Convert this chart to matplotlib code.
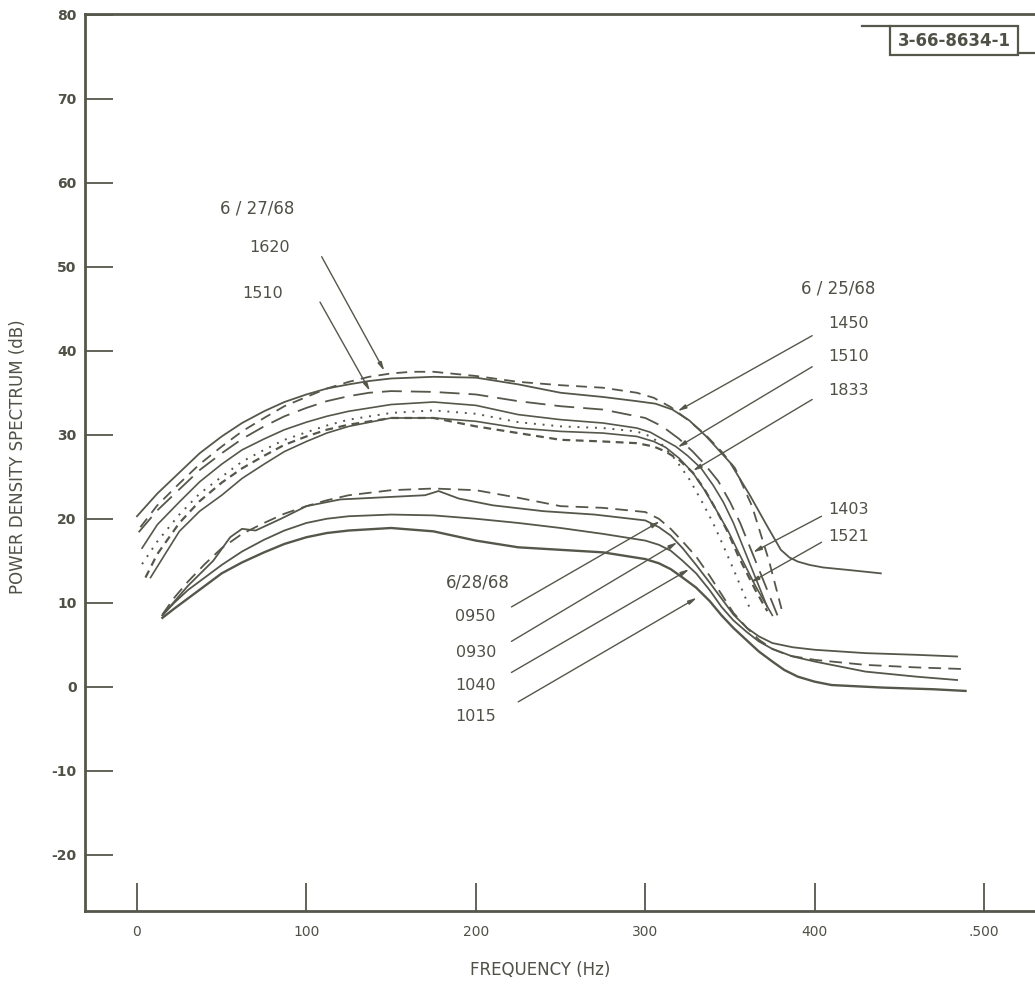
import numpy as np
import matplotlib
matplotlib.use("Agg")
import matplotlib.pyplot as plt
from matplotlib.lines import Line2D
from matplotlib.patches import Rectangle

plt.rcParams["axes.unicode_minus"] = False

INK = "#4f5046"
LINE = "#55574b"

# ---- curve data (frequency Hz, power density dB) ----
# 6/27/68
f_1620 = [2, 12, 25, 37, 50, 62, 75, 87, 100, 112, 125, 137, 150, 162, 175, 200, 225, 250, 275, 295,
          305, 315, 325, 335, 345, 353, 363, 373, 381]
p_1620 = [19.0, 21.6, 24.2, 26.5, 28.6, 30.4, 32.0, 33.4, 34.5, 35.5, 36.3, 36.9, 37.3, 37.5, 37.5, 37.0,
          36.3, 35.9, 35.6, 35.0, 34.4, 33.3, 31.8, 30.1, 28.0, 26.0, 21.5, 15.0, 8.8]
f_1510a = [1, 12, 25, 37, 50, 62, 75, 87, 100, 112, 125, 137, 150, 175, 200, 225, 250, 275, 300, 310,
           320, 328, 335, 343, 350, 356, 362, 372, 378]
p_1510a = [18.4, 21.0, 23.5, 25.8, 27.8, 29.5, 31.0, 32.2, 33.2, 34.0, 34.6, 35.0, 35.2, 35.1, 34.8, 34.0,
           33.4, 33.0, 32.0, 31.0, 29.5, 28.0, 26.5, 24.5, 22.0, 19.5, 16.5, 11.5, 8.5]
# 6/25/68
f_1450 = [0, 12, 25, 37, 50, 62, 75, 87, 100, 112, 125, 137, 150, 175, 200, 225, 250, 275, 295, 306,
          316, 326, 336, 350, 362, 372, 380, 385, 390, 397, 405, 420, 439]
p_1450 = [20.3, 23.0, 25.5, 27.8, 29.8, 31.4, 32.8, 33.9, 34.8, 35.5, 36.0, 36.4, 36.7, 36.9, 36.8, 36.0,
          35.0, 34.5, 34.0, 33.7, 33.0, 31.7, 29.8, 26.7, 22.7, 19.1, 16.3, 15.4, 14.9, 14.5, 14.2, 13.9, 13.5]
f_1510b = [3, 12, 25, 37, 50, 62, 75, 87, 100, 112, 125, 150, 175, 200, 225, 250, 275, 295, 303, 310,
           318, 325, 333, 340, 346, 352, 362, 372]
p_1510b = [16.5, 19.3, 22.0, 24.4, 26.5, 28.2, 29.5, 30.6, 31.5, 32.2, 32.8, 33.6, 33.9, 33.5, 32.4, 31.8,
           31.4, 30.8, 30.3, 29.5, 28.6, 27.5, 26.0, 24.0, 22.0, 19.5, 14.5, 9.5]
f_1521 = [3, 12, 25, 37, 50, 62, 75, 87, 100, 112, 125, 150, 175, 200, 225, 250, 275, 295, 303, 310,
          318, 326, 333, 340, 346, 352, 362]
p_1521 = [14.6, 17.3, 20.5, 23.0, 25.0, 26.8, 28.2, 29.4, 30.3, 31.1, 31.8, 32.6, 32.9, 32.5, 31.5, 31.0,
          30.8, 30.4, 29.8, 28.8, 27.0, 24.7, 22.2, 19.5, 16.8, 14.0, 9.2]
f_1833 = [5, 12, 25, 37, 50, 62, 75, 87, 100, 112, 125, 150, 175, 200, 225, 250, 275, 295, 305, 312,
          320, 328, 335, 342, 349, 355, 365, 372]
p_1833 = [13.0, 15.8, 19.5, 22.1, 24.3, 26.0, 27.5, 28.8, 29.8, 30.6, 31.2, 32.0, 32.0, 31.0, 30.2, 29.4,
          29.2, 29.0, 28.6, 28.0, 27.0, 25.5, 23.5, 21.0, 18.3, 15.5, 11.5, 9.0]
f_1403 = [8, 16, 25, 37, 50, 62, 75, 87, 100, 112, 125, 150, 175, 200, 225, 250, 275, 295, 305, 312,
          320, 328, 335, 342, 349, 355, 365, 375]
p_1403 = [13.0, 15.6, 18.5, 20.9, 22.8, 24.8, 26.5, 28.0, 29.2, 30.2, 31.0, 32.0, 32.0, 31.6, 30.8, 30.4,
          30.2, 29.8, 29.2, 28.5, 27.2, 25.5, 23.4, 21.0, 18.5, 16.0, 12.0, 8.5]
# 6/28/68
f_0950 = [15, 22, 30, 40, 50, 62, 75, 87, 100, 112, 125, 150, 175, 200, 225, 250, 275, 300, 308, 315,
          322, 330, 338, 345, 352, 360, 367, 375, 385, 400, 430, 460, 489]
p_0950 = [8.6, 10.6, 12.5, 14.6, 16.5, 18.2, 19.5, 20.6, 21.5, 22.2, 22.8, 23.4, 23.6, 23.4, 22.5, 21.5,
          21.3, 20.8, 20.0, 18.8, 17.3, 15.5, 13.2, 11.0, 8.8, 7.0, 5.6, 4.5, 3.7, 3.2, 2.6, 2.3, 2.1]
f_0930 = [15, 30, 45, 55, 62, 70, 85, 100, 120, 150, 170, 178, 190, 210, 240, 270, 300, 308, 315, 322,
          330, 338, 345, 352, 360, 367, 375, 387, 400, 430, 460, 484]
p_0930 = [8.5, 12.0, 15.0, 17.8, 18.8, 18.6, 20.0, 21.5, 22.3, 22.6, 22.8, 23.3, 22.4, 21.6, 20.9, 20.5,
          19.8, 19.0, 18.0, 16.5, 14.5, 12.4, 10.5, 8.6, 7.0, 6.0, 5.2, 4.7, 4.4, 4.0, 3.8, 3.6]
f_1040 = [15, 22, 30, 40, 50, 62, 75, 87, 100, 112, 125, 150, 175, 200, 225, 250, 275, 300, 308, 315,
          322, 330, 338, 345, 352, 360, 367, 375, 387, 400, 430, 460, 484]
p_1040 = [8.5, 10.0, 11.5, 13.0, 14.5, 16.1, 17.5, 18.6, 19.5, 20.0, 20.3, 20.5, 20.4, 20.0, 19.5, 18.9,
          18.2, 17.4, 16.9, 16.2, 15.0, 13.5, 11.5, 9.5, 7.9, 6.5, 5.4, 4.5, 3.6, 3.0, 1.8, 1.2, 0.8]
f_1015 = [15, 22, 30, 40, 50, 62, 75, 87, 100, 112, 125, 150, 175, 200, 225, 250, 275, 300, 308, 315,
          322, 330, 338, 345, 352, 360, 367, 375, 382, 390, 400, 410, 440, 470, 489]
p_1015 = [8.2, 9.3, 10.5, 12.0, 13.5, 14.8, 16.0, 17.0, 17.8, 18.3, 18.6, 18.9, 18.5, 17.4, 16.6, 16.3,
          16.0, 15.2, 14.7, 14.0, 13.0, 11.8, 10.2, 8.5, 7.0, 5.5, 4.2, 3.0, 2.0, 1.2, 0.6, 0.2, -0.1, -0.3, -0.5]

x_ticks = [0, 100, 200, 300, 400, 500]
x_ticklabels = ["0", "100", "200", "300", "400", ".500"]
y_ticks = [-20, -10, 0, 10, 20, 30, 40, 50, 60, 70, 80]

fig = plt.figure(figsize=(10.35, 9.84), dpi=100)
ax = fig.add_axes([0.0821, 0.0742, 0.9179, 0.9116])

# (f, p, dashes, linewidth)
curves = [
    (f_1620, p_1620, (6, 4), 1.3),
    (f_1510a, p_1510a, (11, 5), 1.3),
    (f_1450, p_1450, None, 1.3),
    (f_1510b, p_1510b, None, 1.2),
    (f_1521, p_1521, (1, 3.5), 1.4),
    (f_1833, p_1833, (3.5, 2.5), 1.6),
    (f_1403, p_1403, None, 1.2),
    (f_0950, p_0950, (7, 4), 1.3),
    (f_0930, p_0930, None, 1.3),
    (f_1040, p_1040, None, 1.3),
    (f_1015, p_1015, None, 1.7),
]
for f, p, dsh, lw in curves:
    ln, = ax.plot(f, p, color=LINE, lw=lw, solid_joinstyle="round")
    if dsh is not None:
        ln.set_dashes(dsh)

# labels and leader arrows: (text, text pos, line start, arrow tip)
notes = [
    ("1620", (78, 52.3), (109, 51.2), (146, 37.6)),
    ("1510", (74, 46.8), (108, 45.8), (137.5, 35.2)),
    ("1450", (420, 43.2), (398.5, 41.8), (319, 32.8)),
    ("1510", (420, 39.3), (398.5, 38.1), (319, 28.5)),
    ("1833", (420, 35.3), (398.5, 34.2), (328, 25.7)),
    ("1403", (420, 21.1), (404, 20.3), (363.5, 16.0)),
    ("1521", (420, 17.9), (404, 17.2), (362, 12.4)),
    ("0950", (199.5, 8.4), (221, 9.5), (308.7, 19.7)),
    ("0930", (200, 4.1), (221, 5.4), (319, 17.2)),
    ("1040", (200, 0.1), (221, 1.7), (326, 14.0)),
    ("1015", (200, -3.6), (225, -1.8), (330.5, 10.6)),
]
for txt, tpos, start, tip in notes:
    ax.text(tpos[0], tpos[1], txt, ha="center", va="center", fontsize=11.5, color=INK)
    ax.annotate("", xy=tip, xytext=start,
                arrowprops=dict(arrowstyle="-|>,head_length=0.5,head_width=0.12",
                                color=LINE, lw=1.0, shrinkA=0, shrinkB=0))

ax.text(71, 56.9, "6 / 27/68", ha="center", va="center", fontsize=12, color=INK)
ax.text(414, 47.4, "6 / 25/68", ha="center", va="center", fontsize=12, color=INK)
ax.text(201, 12.4, "6/28/68", ha="center", va="center", fontsize=12, color=INK)

ax.set_xlim(-30.7, 530)
ax.set_ylim(-26.7, 80.1)
ax.set_xticks(x_ticks)
ax.set_xticklabels(x_ticklabels)
ax.set_yticks(y_ticks)
ax.tick_params(axis="both", direction="in", length=20, width=1.3, color=LINE,
               labelcolor=INK, labelsize=10)
ax.tick_params(axis="y", pad=6)
ax.tick_params(axis="x", pad=10)
for lab in ax.get_yticklabels():
    lab.set_fontweight("bold")
ax.spines["right"].set_visible(False)
for s in ["left", "top", "bottom"]:
    ax.spines[s].set_color(LINE)
    ax.spines[s].set_linewidth(2.0)

fig.text(540 / 1035, 1 - 970 / 984, "FREQUENCY (Hz)", ha="center", va="center",
         fontsize=12, color=INK)
fig.text(18 / 1035, 1 - 457 / 984, "POWER DENSITY SPECTRUM (dB)", ha="center", va="center",
         rotation=90, fontsize=12, color=INK)

# drawing number box, top right
bx0, bx1, by0, by1 = 890 / 1035, 1018 / 1035, 1 - 55 / 984, 1 - 26 / 984
fig.add_artist(Rectangle((bx0, by0), bx1 - bx0, by1 - by0, transform=fig.transFigure,
                         fc="white", ec=LINE, lw=1.6))
fig.text((bx0 + bx1) / 2, (by0 + by1) / 2, "3-66-8634-1", ha="center", va="center",
         fontsize=12, color=INK, fontweight="bold")
fig.add_artist(Line2D([862 / 1035, bx0], [by1, by1], color=LINE, lw=1.6))
fig.add_artist(Line2D([bx1, 1.0], [1 - 53 / 984, 1 - 53 / 984], color=LINE, lw=1.6))

fig.savefig("out.png", dpi=100, facecolor="white")
